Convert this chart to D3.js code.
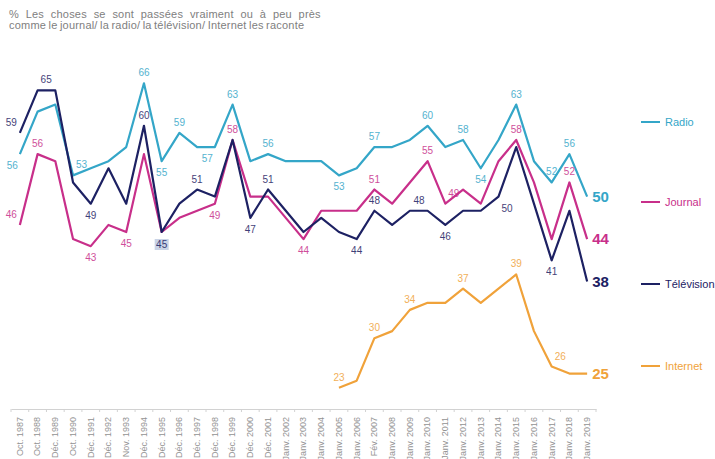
<!DOCTYPE html>
<html>
<head>
<meta charset="utf-8">
<script src="https://cdn.jsdelivr.net/npm/d3@7"></script>
<style>
  body { margin: 0; background: #fff; }
  svg { font-family: "Liberation Sans", Arial, sans-serif; }
</style>
</head>
<body>
<div id="chart"></div>
<script>
// Confiance dans les médias
const periods = ["Oct. 1987","Oct. 1988","Déc. 1989","Oct. 1990","Déc. 1991","Déc. 1992","Nov. 1993",
  "Déc. 1994","Déc. 1995","Déc. 1996","Déc. 1997","Déc. 1998","Déc. 1999","Déc. 2000","Déc. 2001",
  "Janv. 2002","Janv. 2003","Janv. 2004","Janv. 2005","Janv. 2006","Fév. 2007","Janv. 2008","Janv. 2009",
  "Janv. 2010","Janv. 2011","Janv. 2012","Janv. 2013","Janv. 2014","Janv. 2015","Janv. 2016","Janv. 2017",
  "Janv. 2018","Janv. 2019"];

const radio      = [56,62,63,53,54,55,57,66,55,59,57,57,63,55,56,55,55,55,53,54,57,57,58,60,57,58,54,58,63,55,52,56,50];
const journal    = [46,56,55,44,43,46,45,56,45,47,48,49,58,50,50,47,44,48,48,48,51,49,52,55,49,51,49,55,58,52,44,52,44];
const television = [59,65,65,52,49,54,49,60,45,49,51,50,58,47,51,48,45,47,45,44,48,46,48,48,46,48,48,50,57,49,41,48,38];
// Internet measured from janv. 2005
const internet   = [null,null,null,null,null,null,null,null,null,null,null,null,null,null,null,null,null,null,
  23,24,30,31,34,35,35,37,35,37,39,31,26,25,25];

// labelled points: [index, placement]
const radioLabels      = [[0,"bl"],[3,"tr"],[7,"t"],[8,"b"],[9,"t"],[11,"bl"],[12,"t"],[14,"t"],[18,"b"],[20,"t"],[23,"t"],[25,"t"],[26,"b"],[28,"t"],[30,"t"],[31,"t"]];
const journalLabels    = [[0,"tl"],[1,"t"],[4,"b"],[6,"b"],[11,"b"],[12,"t"],[16,"b"],[20,"t"],[23,"t"],[24,"tr"],[28,"t"],[31,"t"]];
const televisionLabels = [[0,"tl"],[1,"tr"],[4,"b"],[7,"t"],[8,"box"],[10,"t"],[13,"b"],[14,"t"],[19,"b"],[20,"t"],[23,"tl"],[24,"b"],[27,"br"],[30,"b"]];
const internetLabels   = [[18,"t"],[20,"t"],[22,"t"],[25,"t"],[28,"t"],[30,"tr"]];

const series = [
  {name: "Radio", values: radio, labels: radioLabels, color: "#34a6c8", legendY: 122},
  {name: "Journal", values: journal, labels: journalLabels, color: "#c82f8a", legendY: 202},
  {name: "Télévision", values: television, labels: televisionLabels, color: "#1d2163", legendY: 284},
  {name: "Internet", values: internet, labels: internetLabels, color: "#f0a23a", legendY: 366}
];

const width = 715, height = 459;

const svg = d3.select("#chart")
  .append("svg")
    .attr("width", width)
    .attr("height", height);

// x : one band per survey
const x = d3.scaleBand()
  .domain(periods)
  .range([11, 596])
  .padding(0);
const cx = d => x(d) + x.bandwidth() / 2;

const y = d3.scaleLinear()
  .domain([20, 70])
  .range([409, 55]);

// title
const title = svg.append("g").attr("fill", "#808080")
  .style("font-size", "11px").style("letter-spacing", "0.2px");
title.append("text").attr("x", 9).attr("y", 18)
  .style("word-spacing", "3.5px")
  .text("% Les choses se sont passées vraiment ou à peu près");
title.append("text").attr("x", 9).attr("y", 29)
  .style("word-spacing", "-0.8px")
  .text("comme le journal/ la radio/ la télévision/ Internet les raconte");

// x axis
const axis = svg.append("g")
  .attr("transform", "translate(0," + y(20) + ")")
  .call(d3.axisBottom(x).tickSize(0).tickSizeOuter(0));
axis.select(".domain").attr("stroke", "#d2d2d2");
axis.selectAll(".tick text")
  .attr("transform", "translate(0,8)rotate(-90)")
  .attr("x", 0).attr("y", 0).attr("dy", "0.32em")
  .style("text-anchor", "end")
  .style("font-size", "9px")
  .style("font-family", "'Liberation Sans', Arial, sans-serif")
  .attr("fill", "#939393");
axis.selectAll(".edge")
  .data(periods.concat(["end"]))
  .enter()
  .append("line")
    .attr("x1", (d, i) => i < periods.length ? x(d) : x.range()[1])
    .attr("x2", (d, i) => i < periods.length ? x(d) : x.range()[1])
    .attr("y1", 0).attr("y2", 3)
    .attr("stroke", "#d2d2d2");

// lines
const line = d3.line()
  .defined(d => d.v != null)
  .x(d => cx(d.p))
  .y(d => y(d.v));

const offsets = {
  t:  [0, -7, "middle"],
  tl: [-3, -7, "end"],
  tr: [3, -7, "start"],
  b:  [0, 15, "middle"],
  bl: [-2, 15, "end"],
  br: [3, 15, "start"],
  box: [0, 16, "middle"]
};

series.forEach(s => {
  const pts = periods.map((p, i) => ({p: p, v: s.values[i]}));

  svg.append("path")
    .datum(pts)
    .attr("fill", "none")
    .attr("stroke", s.color)
    .attr("stroke-width", 2.2)
    .attr("stroke-linejoin", "round")
    .attr("d", line);

  // data labels
  const g = svg.append("g").style("font-size", "10px").attr("fill", s.color);
  s.labels.forEach(([i, pos]) => {
    const o = offsets[pos];
    const px = cx(periods[i]) + o[0], py = y(s.values[i]) + o[1];
    if (pos === "box") {
      g.append("rect")
        .attr("x", px - 7).attr("y", py - 9)
        .attr("width", 14).attr("height", 11)
        .attr("fill", "#c9d3e6");
    }
    g.append("text")
      .attr("x", px).attr("y", py)
      .attr("text-anchor", o[2])
      .attr("opacity", 0.85)
      .text(s.values[i]);
  });

  // last value
  const last = s.values.length - 1;
  svg.append("text")
    .attr("x", cx(periods[last]) + 5)
    .attr("y", y(s.values[last]))
    .attr("dy", "0.36em")
    .attr("fill", s.color)
    .style("font-size", "15px")
    .style("font-weight", "bold")
    .text(s.values[last]);

  // legend
  svg.append("line")
    .attr("x1", 641).attr("x2", 660)
    .attr("y1", s.legendY).attr("y2", s.legendY)
    .attr("stroke", s.color)
    .attr("stroke-width", 2);
  svg.append("text")
    .attr("x", 665).attr("y", s.legendY)
    .attr("dy", "0.35em")
    .attr("fill", s.color)
    .style("font-size", "11px")
    .text(s.name);
});
</script>
</body>
</html>
